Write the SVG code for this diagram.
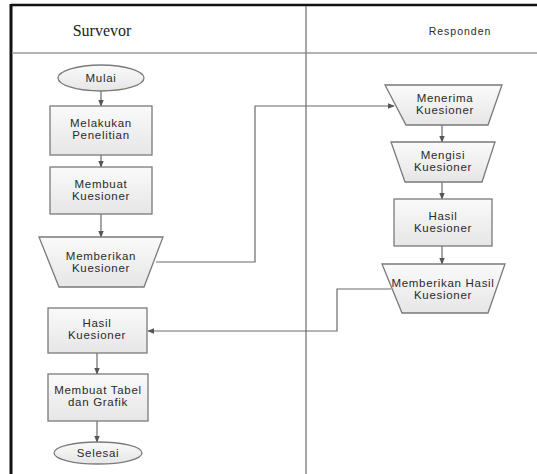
<svg xmlns="http://www.w3.org/2000/svg" width="537" height="474" viewBox="0 0 537 474">
<defs>
<linearGradient id="g" x1="0" y1="0" x2="0" y2="1">
<stop offset="0" stop-color="#fafafa"/>
<stop offset="1" stop-color="#e6e6e6"/>
</linearGradient>
<marker id="a" viewBox="0 0 10 10" refX="9" refY="5" markerWidth="6" markerHeight="6" orient="auto">
<path d="M0,1 L10,5 L0,9 Z" fill="#555"/>
</marker>
</defs>
<style>
.n{fill:url(#g);stroke:#7a7a7a;stroke-width:1.3}
.t{font-family:"Liberation Sans",Arial,sans-serif;font-size:11.5px;letter-spacing:0.7px;fill:#2a2a2a;text-anchor:middle}
.c{fill:none;stroke:#6a6a6a;stroke-width:1.2;marker-end:url(#a)}
</style>
<rect width="537" height="474" fill="#fff"/>
<g id="frame">
<line x1="11" y1="5" x2="537" y2="5" stroke="#111" stroke-width="2.5"/>
<line x1="11" y1="4" x2="11" y2="474" stroke="#111" stroke-width="3"/>
<line x1="12" y1="53" x2="537" y2="53" stroke="#999" stroke-width="1.5"/>
<line x1="306" y1="6" x2="306" y2="474" stroke="#888" stroke-width="1.5"/>
<text x="102" y="36" style="font-family:'Liberation Serif','Times New Roman',serif;font-size:16px;fill:#222;text-anchor:middle">Survevor</text>
<text x="460" y="35" class="t" style="font-size:10.5px;letter-spacing:1px">Responden</text>
</g>
<g id="connectors">
<line class="c" x1="101" y1="91" x2="101" y2="106"/>
<line class="c" x1="101" y1="155" x2="101" y2="167"/>
<line class="c" x1="101" y1="214" x2="101" y2="237"/>
<polyline class="c" points="156,262 255,262 255,106 394,106"/>
<line class="c" x1="442" y1="125" x2="442" y2="142"/>
<line class="c" x1="442" y1="182" x2="442" y2="199"/>
<line class="c" x1="442" y1="246" x2="442" y2="264"/>
<polyline class="c" points="391,289 337,289 337,331 148,331"/>
<line class="c" x1="97" y1="353" x2="97" y2="374"/>
<line class="c" x1="97" y1="421" x2="97" y2="442"/>
</g>
<g id="mulai">
<ellipse class="n" cx="101" cy="78" rx="43" ry="13"/>
<text class="t" x="101" y="82">Mulai</text>
</g>
<g id="melakukan">
<rect class="n" x="50" y="106" width="102" height="49"/>
<text class="t" x="101" y="127">Melakukan</text>
<text class="t" x="101" y="139">Penelitian</text>
</g>
<g id="membuat">
<rect class="n" x="50" y="167" width="102" height="47"/>
<text class="t" x="101" y="188">Membuat</text>
<text class="t" x="101" y="200">Kuesioner</text>
</g>
<g id="memberikan">
<polygon class="n" points="39,237 163,237 144,287 59,287"/>
<text class="t" x="101" y="260">Memberikan</text>
<text class="t" x="101" y="272">Kuesioner</text>
</g>
<g id="menerima">
<polygon class="n" points="385,85 502,85 488,125 406,125"/>
<text class="t" x="445" y="102">Menerima</text>
<text class="t" x="445" y="114">Kuesioner</text>
</g>
<g id="mengisi">
<polygon class="n" points="391,142 495,142 482,182 405,182"/>
<text class="t" x="443" y="159">Mengisi</text>
<text class="t" x="443" y="171">Kuesioner</text>
</g>
<g id="hasil-r">
<rect class="n" x="394" y="199" width="98" height="47"/>
<text class="t" x="443" y="220">Hasil</text>
<text class="t" x="443" y="232">Kuesioner</text>
</g>
<g id="memberikan-hasil">
<polygon class="n" points="382,264 505,264 488,313 402,313"/>
<text class="t" x="443" y="287">Memberikan Hasil</text>
<text class="t" x="443" y="299">Kuesioner</text>
</g>
<g id="hasil-l">
<rect class="n" x="48" y="308" width="99" height="45"/>
<text class="t" x="97" y="327">Hasil</text>
<text class="t" x="97" y="339">Kuesioner</text>
</g>
<g id="tabel">
<rect class="n" x="48" y="374" width="100" height="47"/>
<text class="t" x="98" y="394">Membuat Tabel</text>
<text class="t" x="98" y="406">dan Grafik</text>
</g>
<g id="selesai">
<ellipse class="n" cx="98" cy="453" rx="44" ry="11"/>
<text class="t" x="98" y="457">Selesai</text>
</g>
</svg>
